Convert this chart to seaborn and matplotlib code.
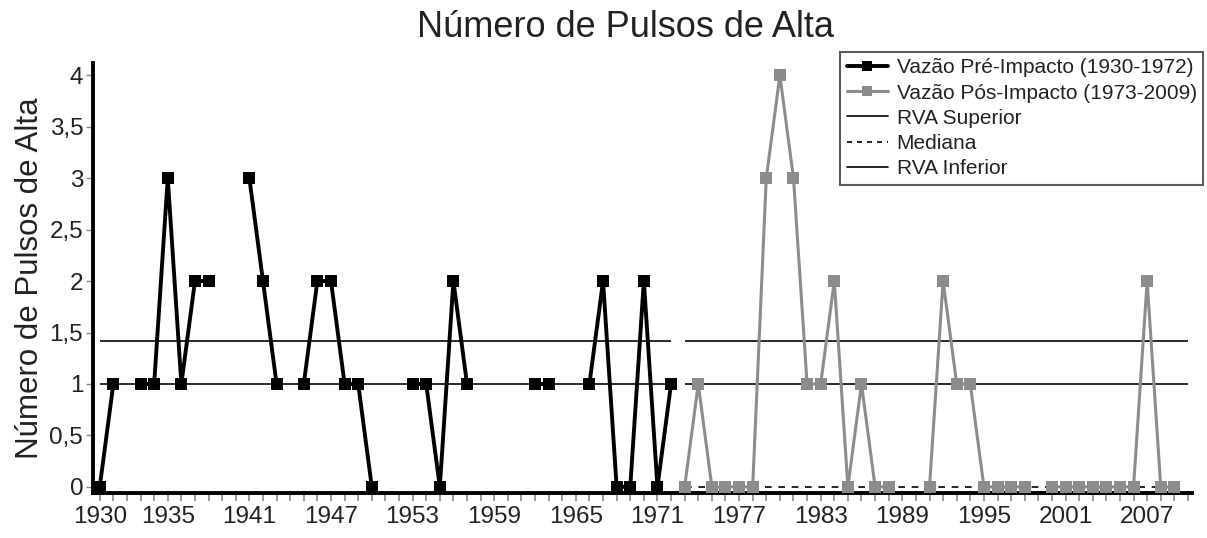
import numpy as np
import pandas as pd
import matplotlib
matplotlib.use("Agg")
import matplotlib.pyplot as plt
from matplotlib.lines import Line2D
import seaborn as sns

nan = np.nan

# pre-impact flows 1930-1972 (gaps = missing years)
pre_years = list(range(1930, 1973))
pre_vals = [0, 1, nan, 1, 1, 3, 1, 2, 2, nan,
            nan, 3, 2, 1, nan, 1, 2, 2, 1, 1,
            0, nan, nan, 1, 1, 0, 2, 1, nan, nan,
            nan, nan, 1, 1, nan, nan, 1, 2, 0, 0,
            2, 0, 1]

# post-impact flows 1973-2009
post_years = list(range(1973, 2010))
post_vals = [0, 1, 0, 0, 0, 0, 3,
             4, 3, 1, 1, 2, 0, 1, 0, 0, nan,
             nan, 0, 2, 1, 1, 0, 0, 0, 0, nan,
             0, 0, 0, 0, 0, 0, 0, 2, 0, 0]

rva_sup = 1.42
rva_inf = 1.0
mediana_pos = 0.0

xtick_years = [1930, 1935, 1941, 1947, 1953, 1959, 1965, 1971, 1977, 1983, 1989, 1995, 2001, 2007]
ytick_vals = [0, 0.5, 1, 1.5, 2, 2.5, 3, 3.5, 4]
ytick_labels = ['0', '0,5', '1', '1,5', '2', '2,5', '3', '3,5', '4']


def make_df(years, vals):
    df = pd.DataFrame({'ano': years, 'pulsos': vals})
    df['seg'] = df['pulsos'].isna().cumsum()
    return df.dropna()


sns.set_style('white')
plt.rcParams['font.family'] = ['Liberation Sans', 'DejaVu Sans']

fig = plt.figure(figsize=(12.07, 5.38), dpi=100)
ax = fig.add_axes([0.077, 0.0836, 0.9106, 0.7994])

gray = '#8c8c8c'

# RVA / median lines
for x0, x1 in [(pre_years[0], pre_years[-1]), (post_years[0], post_years[-1] + 1)]:
    ax.hlines([rva_sup, rva_inf], x0, x1, colors='#2a2a2a', lw=1.4, zorder=1)
ax.hlines(mediana_pos, post_years[0], post_years[-1], colors='black', lw=1.2,
          linestyles=(0, (4, 4)), zorder=1)

pre = make_df(pre_years, pre_vals)
post = make_df(post_years, post_vals)

sns.lineplot(data=pre, x='ano', y='pulsos', units='seg', estimator=None,
             color='black', lw=2.8, marker='s', markersize=8, markeredgewidth=0,
             ax=ax, zorder=3)
sns.lineplot(data=post, x='ano', y='pulsos', units='seg', estimator=None,
             color=gray, lw=2.2, marker='s', markersize=8, markeredgewidth=0,
             ax=ax, zorder=3)

ax.set_xlim(1929.5, 2010.3)
ax.set_ylim(-0.06, 4.12)

ax.set_yticks(ytick_vals)
ax.set_yticklabels(ytick_labels)
ax.set_xticks(xtick_years)
ax.set_xticklabels([str(y) for y in xtick_years])
ax.set_xticks(list(range(1930, 2011)), minor=True)

ax.tick_params(axis='both', which='both', bottom=True, left=True,
               labelsize=17.5, colors='#222222', direction='out')
ax.tick_params(axis='y', length=5, width=1, color='#888888', pad=2)
ax.tick_params(axis='x', which='both', length=6, width=1.2, color='#888888', pad=3)

for s in ['top', 'right']:
    ax.spines[s].set_visible(False)
for s in ['left', 'bottom']:
    ax.spines[s].set_linewidth(2.8)
    ax.spines[s].set_color('black')

ax.set_xlabel('')
ax.set_ylabel('Número de Pulsos de Alta', fontsize=22.5, color='#222222', labelpad=3)

fig.text(0.518, 0.948, 'Número de Pulsos de Alta', ha='center', va='center',
         fontsize=26, color='#222222')

handles = [
    Line2D([], [], color='black', lw=2.8, marker='s', markersize=7, markeredgewidth=0),
    Line2D([], [], color=gray, lw=2.2, marker='s', markersize=7, markeredgewidth=0),
    Line2D([], [], color='black', lw=1.2),
    Line2D([], [], color='black', lw=1.2, ls=(0, (3, 3))),
    Line2D([], [], color='black', lw=1.2),
]
labels = ['Vazão Pré-Impacto (1930-1972)', 'Vazão Pós-Impacto (1973-2009)',
          'RVA Superior', 'Mediana', 'RVA Inferior']
leg = fig.legend(handles, labels, loc='upper right', bbox_to_anchor=(0.9967, 0.9033),
                 frameon=True, fancybox=False, edgecolor='#333333', fontsize=15,
                 handlelength=2.0, handletextpad=0.4, labelspacing=0.3,
                 borderpad=0.3, borderaxespad=0)
leg.get_frame().set_linewidth(1.5)
for t in leg.get_texts():
    t.set_color('#222222')

fig.savefig('out.png', dpi=100)
